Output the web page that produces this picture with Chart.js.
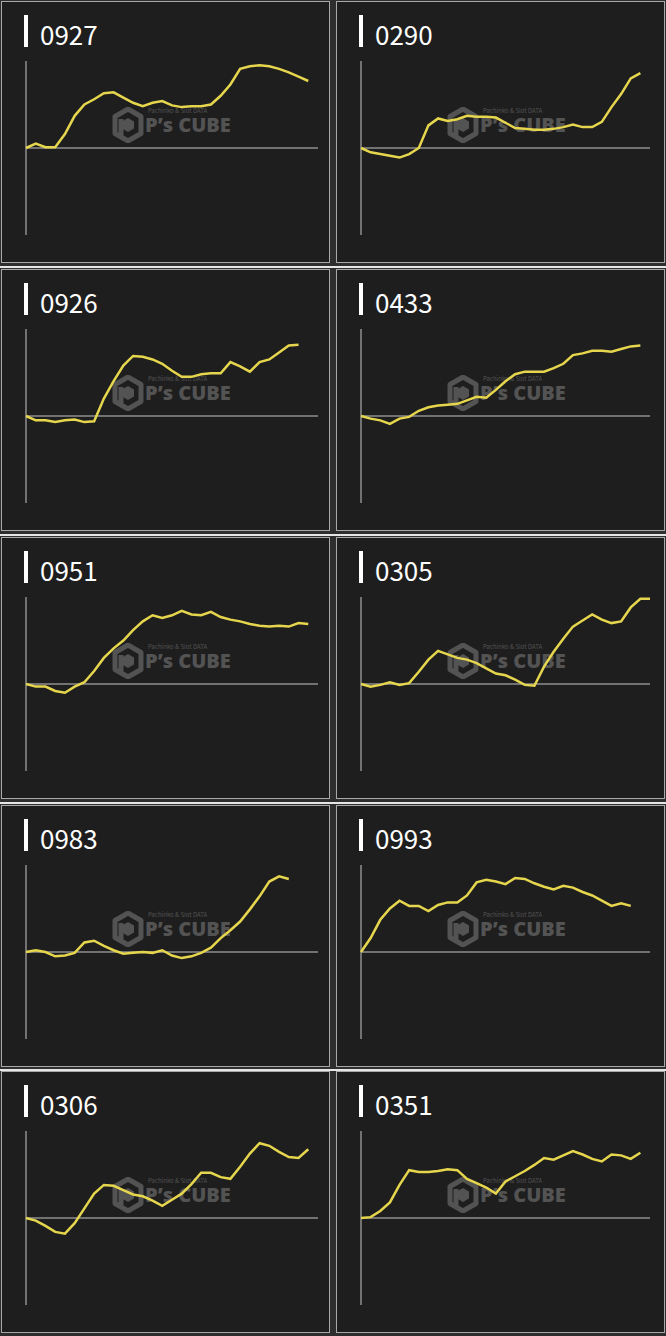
<!DOCTYPE html>
<html>
<head>
<meta charset="utf-8">
<script src="https://cdn.jsdelivr.net/npm/chart.js@4/dist/chart.umd.min.js"></script>
<style>
  html, body { margin: 0; padding: 0; }
  body {
    width: 666px; height: 1336px; position: relative; overflow: hidden;
    background: #2e2e2e;
    font-family: "Noto Sans CJK JP", "Noto Sans", sans-serif;
  }
  .sep { position: absolute; left: 0; width: 666px; height: 2px; background: #e6e6e6; }
  .panel {
    position: absolute; width: 327px; height: 260px;
    background: #1e1e1e; border: 1px solid #a8a8a8;
  }
  .bar { position: absolute; left: 22px; top: 13px; width: 4px; height: 32px; background: #fff; }
  .title { position: absolute; left: 38px; top: 14px; font-size: 26px; line-height: 36px; color: #fff; }
  .wm { position: absolute; left: 110px; top: 105px; width: 130px; height: 38px; color: #535353; }
  .wm svg { position: absolute; left: 0; top: 0; }
  .wm .big { position: absolute; left: 33px; top: 6px; font-family: "Open Sans", sans-serif; font-weight: 800; font-size: 20px; line-height: 24px; white-space: nowrap; }
  .wm .small { position: absolute; left: 36px; top: 0px; font-size: 6px; line-height: 7px; white-space: nowrap; }
  canvas { position: absolute; }
</style>
</head>
<body>
<script>
// x slots (equal steps through the day)
const slots = Array.from({ length: 31 }, (_, i) => i);

const titles = ["0927", "0290", "0926", "0433", "0951", "0305", "0983", "0993", "0306", "0351"];

// values relative to the y range -100..100
const s0927 = [0, 5, 1, 1, 16, 37, 50, 56, 63, 64, 58, 52, 48, 52, 54, 49, 47, 48, 48, 50, 60, 73, 91, 94, 95, 94, 91, 87, 82, 77];
const s0290 = [0, -5, -7, -9, -11, -7, 0, 26, 34, 31, 33, 37, 36, 36, 35, 29, 23, 22, 21, 21, 22, 24, 27, 24, 24, 30, 47, 62, 80, 86];
const s0926 = [0, -5, -5, -7, -5, -4, -7, -6, 20, 40, 58, 69, 68, 65, 60, 52, 45, 45, 48, 49, 49, 62, 57, 51, 62, 65, 73, 81, 82];
const s0433 = [0, -3, -5, -9, -3, -1, 6, 10, 12, 13, 14, 18, 22, 21, 30, 40, 48, 51, 51, 51, 55, 60, 70, 72, 75, 75, 74, 77, 80, 81];
const s0951 = [0, -3, -3, -8, -10, -3, 2, 15, 30, 41, 50, 62, 72, 79, 76, 79, 84, 80, 79, 83, 77, 74, 72, 69, 67, 66, 67, 66, 70, 69];
const s0305 = [0, -3, -1, 2, -1, 1, 14, 28, 38, 34, 30, 28, 24, 18, 12, 10, 5, -1, -2, 20, 37, 52, 66, 73, 80, 74, 70, 72, 88, 98, 98];
const s0983 = [0, 2, 0, -5, -4, -1, 11, 13, 7, 2, -2, -1, 0, -1, 2, -4, -7, -5, -1, 5, 16, 25, 35, 49, 64, 81, 87, 84];
const s0993 = [0, 16, 37, 50, 59, 53, 53, 47, 54, 57, 57, 65, 80, 83, 81, 78, 85, 84, 79, 75, 72, 76, 74, 69, 65, 59, 53, 56, 53];
const s0306 = [0, -3, -9, -16, -18, -6, 11, 28, 38, 37, 32, 27, 25, 20, 14, 21, 28, 39, 52, 52, 47, 45, 59, 74, 86, 83, 76, 70, 69, 79];
const s0351 = [0, 1, 8, 18, 38, 55, 53, 53, 54, 56, 55, 45, 40, 35, 28, 42, 48, 54, 61, 69, 67, 72, 77, 73, 68, 65, 73, 72, 68, 75];

const series = [s0927, s0290, s0926, s0433, s0951, s0305, s0983, s0993, s0306, s0351];

// draws the vertical axis and the zero line
const axesPlugin = {
  id: "axes",
  beforeDatasetsDraw(chart) {
    const { ctx, chartArea: a } = chart;
    const y0 = chart.scales.y.getPixelForValue(0);
    ctx.save();
    ctx.strokeStyle = "#8e8e8e";
    ctx.lineWidth = 1.5;
    ctx.beginPath();
    ctx.moveTo(a.left, a.top);
    ctx.lineTo(a.left, a.bottom);
    ctx.moveTo(a.left, y0);
    ctx.lineTo(a.right, y0);
    ctx.stroke();
    ctx.restore();
  },
};

const rowTops = [1, 269, 537, 805, 1071];
const colLefts = [1, 336];
const pad = 6;

[266, 534, 802, 1069].forEach((y) => {
  const s = document.createElement("div");
  s.className = "sep";
  s.style.top = y + "px";
  document.body.appendChild(s);
});

titles.forEach((title, i) => {
  const col = i % 2;
  const row = Math.floor(i / 2);
  const panel = document.createElement("div");
  panel.className = "panel";
  panel.style.left = colLefts[col] + "px";
  panel.style.top = rowTops[row] + "px";
  panel.innerHTML =
    '<div class="bar"></div><div class="title">' + title + "</div>" +
    '<div class="wm">' +
    '<svg width="32" height="36" viewBox="0 0 32 36"><path d="M16 2 L29 9.5 L29 26.5 L16 34 L3 26.5 L3 9.5 Z M9 12 L9 31" fill="none" stroke="#535353" stroke-width="5" stroke-linejoin="round"/>' +
    '<path d="M16 11 L22 14.5 L22 21.5 L16 25 L10 21.5 L10 14.5 Z" fill="#535353"/></svg>' +
    '<div class="small">Pachinko &amp; Slot DATA</div>' +
    '<div class="big">P\u2019s CUBE</div></div>';
  document.body.appendChild(panel);

  const w = col === 0 ? 292 : 289;
  const h = 174;
  const canvas = document.createElement("canvas");
  canvas.width = w + pad * 2;
  canvas.height = h + pad * 2;
  canvas.style.left = 24 - pad + "px";
  canvas.style.top = 59 - pad + "px";
  panel.appendChild(canvas);

  new Chart(canvas.getContext("2d"), {
    type: "line",
    data: {
      labels: slots,
      datasets: [
        {
          data: series[i],
          borderColor: "#e6d64e",
          borderWidth: 2.5,
          pointRadius: 0,
          tension: 0,
          fill: false,
        },
      ],
    },
    options: {
      responsive: false,
      animation: false,
      layout: { padding: pad },
      plugins: { legend: { display: false }, tooltip: { enabled: false } },
      scales: {
        x: { display: false, offset: false },
        y: { display: false, min: -100, max: 100 },
      },
    },
    plugins: [axesPlugin],
  });
});
</script>
</body>
</html>
